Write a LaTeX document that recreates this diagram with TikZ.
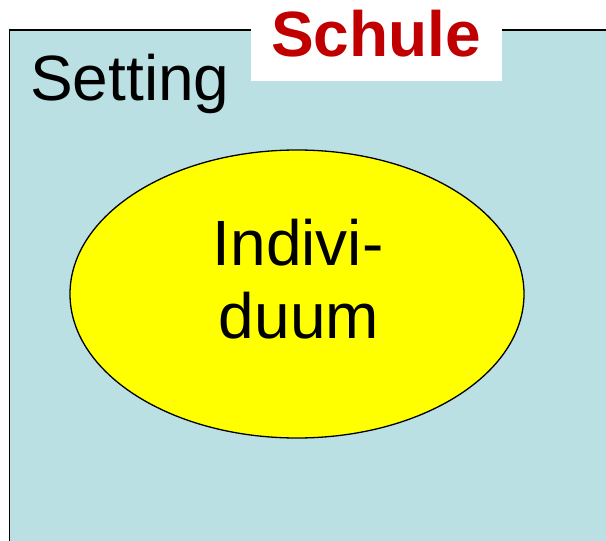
\documentclass[tikz,border=0pt]{standalone}
\usepackage{fontspec}
\setmainfont{Liberation Sans}
\usetikzlibrary{shapes.geometric}
\definecolor{settingblue}{HTML}{BBE0E3}
\definecolor{schulered}{HTML}{C00000}
\definecolor{indyellow}{RGB}{255,255,0}
\tikzset{
  bigtext/.style={font=\fontsize{64bp}{73bp}\selectfont, inner sep=0pt},
  outline/.style={draw=black, line width=1.3bp},
}
\begin{document}
\begin{tikzpicture}[x=1bp,y=-1bp]
\useasboundingbox (0,0) rectangle (606,541);
\clip (0,0) rectangle (606,541);
\fill[white] (0,0) rectangle (606,541);
\filldraw[outline, fill=settingblue] (9.5,30) rectangle (640,580);
\node[fill=white, inner sep=0pt, minimum width=251bp, minimum height=100bp, anchor=south] (box) at (376.5,81) {};
\node[bigtext, font=\fontsize{64bp}{73bp}\selectfont\bfseries, text=schulered, anchor=base] (schule) at (376,57) {Schule};
\node[bigtext, anchor=base west] (setting) at (30,101) {Setting};
\node[ellipse, outline, fill=indyellow, minimum width=454bp, minimum height=288bp, inner sep=0pt] (ind) at (297,294) {};
\node[bigtext, anchor=base] (l1) at (298,265) {Indivi-};
\node[bigtext, anchor=base] (l2) at (299,338) {duum};
\end{tikzpicture}
\end{document}
